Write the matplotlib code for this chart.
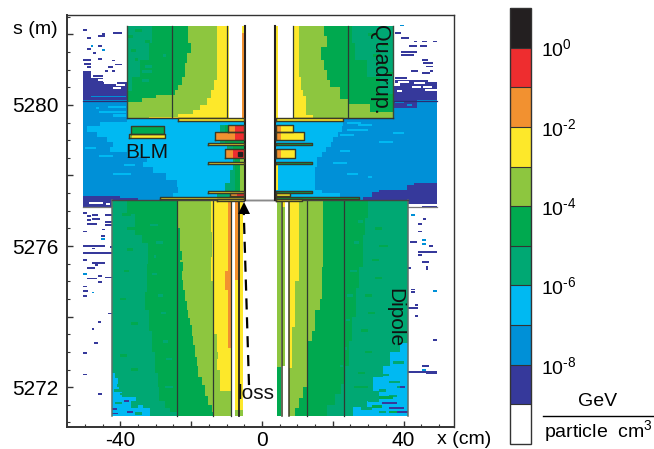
import matplotlib
matplotlib.use("Agg")
import matplotlib.pyplot as plt
import numpy as np
from matplotlib.cm import ScalarMappable
from matplotlib.colors import BoundaryNorm, ListedColormap

plt.rcParams['font.family'] = ['Liberation Sans', 'DejaVu Sans']
plt.rcParams['mathtext.fontset'] = 'custom'
plt.rcParams['mathtext.rm'] = 'Liberation Sans'
plt.rcParams['mathtext.default'] = 'rm'

# colour levels, lowest decade first
WHITE, NAVY, BLUE, CYAN, TEAL, GREEN, LIME, YELLOW, ORANGE, RED, BLACK = range(11)
colors = ['#ffffff', '#36399b', '#0090d7', '#00b9f2', '#00a873', '#00a94f',
          '#8dc63f', '#fde82a', '#f29130', '#ee2d2f', '#231f20']
cbar_exponents = [-8, -6, -4, -2, 0]
xtick_labels = {-40: '-40', 0: '0', 40: '40'}
stick_labels = [5272, 5276, 5280]

# dipole, left half: (s, x) of each contour edge
dl_deep_s = [5277.30, 5276.9, 5276.3, 5276.1, 5275.5, 5274.7, 5274.2, 5273.6, 5273.0, 5272.4, 5272.0, 5271.6, 5271.4, 5271.3, 5271.18]
dl_deep_x = [-38, -36, -34, -32.1, -32.6, -33, -32, -31, -30.2, -29.5, -29, -27.5, -26, -24, -23.2]
dl_lime_s = [5277.30, 5276.60, 5276.50, 5276.00, 5275.85, 5275.60, 5275.55, 5275.30, 5275.05, 5274.75, 5274.45, 5274.20, 5273.95, 5273.75, 5273.45, 5273.20, 5272.85, 5272.60, 5272.30, 5272.05, 5271.75, 5271.50, 5271.30, 5271.18]
dl_lime_x = [-23.6, -23.9, -23.3, -23.2, -22.7, -23.1, -22.2, -22.7, -22.2, -21.7, -21.3, -20.8, -20.3, -19.9, -19.4, -18.9, -18.4, -18.0, -17.0, -16.1, -15.2, -14.2, -13.7, -13.0]
dl_yellow_s = [5277.30, 5276.4, 5275.7, 5275.0, 5274.1, 5273.5, 5273.0, 5272.8, 5272.5, 5271.9, 5271.5, 5271.18]
dl_yellow_x = [-14.4, -14.0, -14.4, -13.7, -13.5, -12.8, -12.3, -12.8, -11.9, -10.9, -10.0, -9.5]
dl_cyan_s = [5272.40, 5272.25, 5272.10, 5271.95, 5271.85, 5271.72, 5271.62, 5271.50, 5271.40, 5271.18]
dl_cyan_x = [-41.5, -40.6, -40.3, -41.8, -39.6, -35.5, -37, -33.5, -31.6, -33.5]
dl_cyan_teal = [(5272.05, -41, -38), (5271.8, -40, -37.5), (5271.55, -41.5, -39.5), (5271.45, -37, -35), (5271.25, -36, -34), (5271.65, -35, -33.5)]

# dipole, right half
dr_deep_s = [5277.3, 5276.8, 5276.3, 5275.4, 5274.8, 5274.0, 5273.3, 5272.6, 5272.1, 5271.8, 5271.5, 5271.18]
dr_deep_x = [30, 29, 28.5, 27.5, 26.5, 25.5, 24.5, 23.5, 22.2, 20.5, 18.5, 18]
dr_lime_s = [5277.3, 5276.3, 5275.4, 5274.5, 5274.2, 5273.6, 5273.3, 5272.6, 5272.0, 5271.7, 5271.4, 5271.18]
dr_lime_x = [17.3, 17.1, 16.9, 16.4, 15.0, 14.2, 13.1, 13.0, 11.7, 10.5, 9.3, 9.3]
dr_yellow_s = [5277.3, 5275.0, 5274.0, 5273.7, 5272.55, 5271.18]
dr_yellow_x = [10.46, 9.33, 9.33, 8.4, 7.73, 7.73]
dr_cyan_s = [5273.25, 5273.0, 5272.6, 5272.3, 5271.9, 5271.6, 5271.45, 5271.18]
dr_cyan_x = [39, 36.2, 34.3, 31.5, 33, 29.6, 25.8, 23]
dr_cyan_teal = [(5272.7, 37, 40), (5272.35, 33, 36), (5272.15, 36, 39), (5271.9, 33, 35), (5271.75, 36, 38), (5271.6, 30, 33), (5271.4, 28, 31), (5271.3, 33, 35), (5272.0, 38, 40)]

# quadrupole, both halves
ql_teal_s = [5282.25, 5281.75, 5281.28, 5280.80, 5280.4]
ql_teal_x = [-31, -32, -34.5, -36.8, -38.2]
ql_lime_s = [5282.25, 5281.75, 5281.47, 5281.18, 5280.80, 5280.57, 5280.42, 5280.28, 5280.19, 5280.09, 5279.62]
ql_lime_x = [-20.8, -20.0, -21.3, -21.8, -22.7, -23.7, -24.6, -30, -34, -38.2, -38.2]
ql_yellow_s = [5282.25, 5280.71, 5280.42, 5280.19, 5280.0, 5279.86, 5279.74, 5279.67, 5279.62]
ql_yellow_x = [-12.8, -13.6, -14.4, -15.6, -17.5, -19.4, -23.6, -32, -32]
qr_teal_s = [5282.25, 5281.75, 5281.28, 5280.80, 5280.3]
qr_teal_x = [25.3, 26.3, 29.6, 33.3, 35.2]
qr_lime_s = [5282.25, 5281.95, 5281.65, 5281.28, 5281.0, 5280.71, 5280.52, 5280.33, 5280.16, 5279.62]
qr_lime_x = [17.4, 18.4, 16.7, 17.4, 18.4, 19.2, 22, 22, 24.5, 24.5]
qr_yellow_s = [5282.25, 5280.80, 5280.42, 5280.24, 5279.72, 5279.62]
qr_yellow_x = [10.55, 11.0, 11.68, 12.43, 14.3, 14.3]
qr_lime_right = [(5280.02, 24.2, 30.5), (5279.79, 30.5, 36.9)]

# tunnel between the magnets
mid_cyan_ls = [5280.1, 5279.53, 5279.39, 5279.24, 5279.10, 5278.96, 5278.82, 5278.68, 5278.53, 5278.39, 5278.25, 5278.06, 5277.87, 5277.68, 5277.50, 5277.35, 5277.3]
mid_cyan_lx = [-38.2, -45.8, -49.5, -46.7, -43.9, -42, -43, -38.2, -32.6, -33.5, -30.7, -27, -24.1, -23.6, -25, -28.8, -28.8]
mid_cyan_rs = [5279.62, 5279.39, 5279.24, 5279.10, 5278.96, 5278.82, 5278.68, 5278.53, 5278.25, 5277.87, 5277.60, 5277.50, 5277.35, 5277.3]
mid_cyan_rx = [23, 22.5, 21.5, 20.2, 19.5, 18, 17, 15.5, 15, 15, 17, 22, 24, 24]
mid_teal_s = [5279.43, 5278.92, 5278.53, 5278.15, 5277.78, 5277.51, 5277.30]
mid_teal_x = [-11.9, -10, -8.1, -9, -10.5, -12.8, -15.6]
mid_green_s = [5279.43, 5278.92, 5278.53, 5277.78, 5277.45, 5277.30]
mid_green_x = [-10.5, -8.1, -7.6, -7.6, -9, -9]

# navy fringe above the tunnel: s_top, s_bottom, x0, x1
navy_top = [
    (5280.95, 5280.14, -50.6, -48.2), (5280.76, 5280.14, -48.2, -44.8), (5280.66, 5280.14, -44.8, -38.2),
    (5280.62, 5280.14, 36.9, 37.6), (5280.72, 5280.14, 37.6, 49.3), (5280.14, 5279.92, 36.9, 43.7),
]
navy_low_ls = [5277.42, 5277.36, 5277.3, 5277.18, 5277.12]
navy_low_lx = [-40, -35, -28, -42.5, -42.5]
navy_low_rs = [5277.78, 5277.72, 5277.60, 5277.54, 5277.40, 5277.3, 5277.2]
navy_low_rx = [42.8, 40.9, 33, 31, 28.6, 28.6, 41.3]

navy_specks = [
    (5282.13, -50.6, -49.5), (5282.05, -42.2, -39.6), (5281.96, -46.4, -44.4), (5282.01, -45.3, -44.4),
    (5281.90, -49.5, -48.4), (5281.67, -46.4, -45.3), (5281.59, -49.3, -48.4), (5281.48, -47.6, -47),
    (5281.28, -50.6, -48.4), (5281.16, -50.4, -48.4), (5281.30, -46.4, -45.3), (5281.26, -42.5, -41.5),
    (5281.15, -41.5, -39.6), (5281.07, -49.5, -48.4), (5281.07, -43.4, -42.2), (5280.96, -44.4, -43.4),
    (5280.96, -42.5, -41.5), (5280.82, -47.6, -45),
    (5282.04, 37.6, 39.3), (5281.90, 39.4, 41.4), (5281.80, 43.0, 43.9), (5281.80, 45.1, 46.5),
    (5281.80, 48.4, 49.3), (5281.67, 41.4, 43.9), (5281.67, 44.6, 46.5), (5281.50, 39.3, 43.7),
    (5281.42, 39.3, 42.8), (5281.28, 45.1, 47), (5281.18, 45.6, 48.4), (5281.09, 46.3, 48.2),
    (5280.96, 42.1, 44.2), (5280.96, 47.5, 48.2), (5280.90, 45.1, 47.4), (5280.76, 37.6, 40.9),
    (5277.26, 43.2, 49.3), (5277.12, 45.1, 49.3), (5276.62, 44, 45.1), (5276.76, 45.4, 46.3),
    (5276.41, 44.2, 45.1), (5276.12, 41.8, 43.7), (5276.0, 47.2, 48.4), (5275.84, 44.2, 49.3),
    (5275.75, 44.2, 45.1), (5275.41, 46.3, 47), (5275.34, 46.3, 47), (5275.54, 45.1, 47.3),
    (5275.37, 41.3, 42), (5274.77, 42.1, 43.2), (5274.70, 42.1, 43.2), (5274.25, 41.3, 44.2),
    (5274.33, 43.2, 44.2), (5274.01, 43.2, 44.2), (5273.33, 48.2, 49.3), (5272.60, 45.1, 47.3),
    (5272.43, 41.3, 49.3), (5272.40, 46.3, 49.3),
    (5276.93, -50.6, -49.5), (5276.85, -49.3, -48.4), (5276.88, -48.1, -46.2), (5276.88, -44.4, -42.5),
    (5276.76, -48.1, -45.8), (5276.74, -49.3, -48.4), (5276.69, -44.4, -42.5), (5276.62, -49.5, -46.7),
    (5276.60, -44.4, -42.5), (5276.47, -45.3, -44.4), (5276.41, -50.6, -49.5), (5276.28, -45.5, -44.4),
    (5276.0, -50.6, -44.4), (5275.98, -42.9, -42.5), (5275.93, -48.1, -47.2), (5275.81, -50.6, -44.4),
    (5275.81, -44.8, -42.5), (5275.60, -50.6, -49.5), (5275.51, -48.1, -44.4), (5275.46, -47.2, -46.2),
    (5275.37, -49.3, -47.2), (5275.15, -46.2, -45.3), (5275.08, -49.3, -46.5), (5275.11, -44.4, -42.5),
    (5274.99, -46.2, -45.3), (5274.85, -50.6, -49.5), (5274.73, -50.6, -49.1), (5274.58, -50.6, -49.5),
    (5274.09, -43.4, -42.5), (5273.84, -46.4, -45.6), (5273.64, -48.1, -47.5), (5273.26, -47.5, -46.4),
    (5272.97, -50.6, -49.5), (5272.36, -50.6, -49.5), (5271.80, -46.4, -45.3),
]
blue_specks = [
    (5281.67, -48.2, -47.6), (5281.55, -45.3, -44.4), (5282.25, 39.0, 40.0),
    (5276.19, -45.5, -44.4), (5275.21, -50.6, -49.5), (5274.68, -48.1, -47.5),
    (5276.88, 42.1, 43.2), (5276.18, 45.1, 46.3), (5276.06, 45.1, 46.3), (5274.73, 48.2, 49.3),
    (5272.48, 45.1, 46.3), (5280.24, -48.4, -38.4), (5280.08, 37.5, 40), (5280.0, 41, 42.5),
]
white_specks = [
    (5280.70, -46.4, -43.4), (5280.62, -44.5, -41), (5280.57, -41.2, -38.6), (5280.48, -42.2, -39.8),
    (5280.66, 38.5, 41.5), (5280.58, 37.4, 39), (5280.50, 42.5, 45), (5280.42, 46, 49.3),
    (5280.52, 45.5, 48), (5280.62, 43, 46), (5280.40, 38, 39.5), (5280.68, 47, 49.3),
    (5277.22, -49, -45), (5277.18, -44, -42.8),
]
cyan_streaks = [
    (5279.95, -43.5, -38.4), (5279.80, -46, -38.4), (5279.70, -42, -38.4), (5279.92, -47, -46),
    (5278.78, -50, -47), (5278.55, -46, -42), (5278.30, -39, -36), (5278.05, -42, -37),
    (5279.50, 24, 28), (5279.42, 27, 31), (5279.30, 24, 30), (5279.15, 22, 26), (5278.95, 33, 37),
    (5279.20, 37, 40), (5278.70, 22, 25), (5278.35, 20, 24), (5278.05, 24, 27), (5277.95, 30, 31),
]
dl_teal_specks = [
    (5276.6, -31.5, -29.5), (5276.1, -30, -28), (5275.7, -30.5, -30), (5275.2, -31, -29.6),
    (5274.6, -29.5, -28), (5274.1, -28.5, -27), (5273.3, -28, -26.5), (5272.8, -27, -25.5), (5272.0, -27.5, -25),
]
dl_green_specks = [
    (5276.9, -39.5, -37), (5276.5, -38, -36), (5275.9, -38, -36.5), (5275.3, -39, -37.5),
    (5274.5, -40, -38.5), (5273.8, -37, -35), (5272.9, -40, -38), (5272.5, -37, -35),
]
dr_teal_specks = [
    (5276.7, 27, 28.5), (5276.1, 26, 27.5), (5275.3, 25, 26.8), (5274.6, 24, 25.6),
    (5273.9, 23.6, 25), (5273.1, 23.4, 24), (5272.6, 22, 23),
]
dr_green_specks = [
    (5276.5, 32, 34), (5276.0, 33, 35.5), (5275.6, 31, 33), (5275.1, 32, 34), (5274.6, 29, 31),
    (5274.1, 30, 32), (5273.6, 28, 30), (5273.0, 29, 31), (5272.4, 27, 29), (5272.0, 26, 30), (5271.7, 33, 37),
    (5271.45, 31, 34), (5271.3, 36, 38),
]
dr_navy_specks = [(5271.55, 34, 38), (5271.4, 36, 40), (5271.3, 38, 41.3), (5272.0, 39, 40.5)]
dl_navy_specks = [(5271.38, -42.3, -41), (5271.25, -42.3, -40.6), (5271.6, -39, -37.5), (5271.3, -38, -36.5)]
ql_teal_specks = [(5281.1, -33, -31), (5280.95, -34, -31), (5280.7, -34, -32), (5281.4, -28, -27)]
ql_green_specks = [(5282.1, -36, -34), (5281.8, -33, -31.5), (5281.55, -37, -35.5), (5281.95, -38, -36.5), (5281.3, -36, -35)]
qr_green_specks = [(5282.0, 30, 33), (5281.7, 34, 36), (5281.4, 31.5, 33.5), (5281.15, 34, 35), (5280.9, 35, 36.9)]

# beamline elements: x0, x1, s0, s1, main level, (inner x, inner level)
bars_left = [
    (-23.6, -5.1, 5279.54, 5279.62, YELLOW, None),
    (-9.7, -5.1, 5279.24, 5279.43, ORANGE, (-7.6, RED)),
    (-13.3, -5.1, 5279.01, 5279.22, ORANGE, (-7.6, RED)),
    (-15.3, -5.1, 5278.87, 5278.93, YELLOW, None),
    (-10.5, -5.1, 5278.49, 5278.75, ORANGE, (-8.3, RED)),
    (-15.3, -5.1, 5278.32, 5278.37, YELLOW, None),
    (-15.3, -5.1, 5277.50, 5277.55, YELLOW, None),
    (-9.0, -5.1, 5277.43, 5277.50, ORANGE, (-7.0, RED)),
    (-28.8, -5.1, 5277.32, 5277.40, YELLOW, None),
    (-12.6, -5.1, 5277.28, 5277.34, YELLOW, None),
]
bars_right = [
    (3.96, 22.8, 5279.54, 5279.62, YELLOW, None),
    (3.96, 8.67, 5279.24, 5279.43, ORANGE, (5.4, YELLOW)),
    (3.96, 11.9, 5279.01, 5279.22, ORANGE, (5.4, YELLOW)),
    (3.96, 14.0, 5278.87, 5278.93, GREEN, None),
    (3.96, 9.3, 5278.49, 5278.75, ORANGE, (5.4, YELLOW)),
    (3.96, 14.0, 5278.32, 5278.37, GREEN, None),
    (3.96, 14.0, 5277.50, 5277.55, GREEN, None),
    (3.96, 7.9, 5277.43, 5277.50, YELLOW, None),
    (3.96, 27.5, 5277.32, 5277.40, GREEN, None),
    (3.96, 11.4, 5277.28, 5277.34, YELLOW, None),
]
bars_blm = [
    (-37.1, -27.7, 5279.18, 5279.39, LIME, (-36.6, GREEN)),
    (-37.5, -27.4, 5279.06, 5279.18, LIME, (-36.8, YELLOW)),
]

# contour lines of the magnet sectors
dipole_lines = [-24.1, -13.9, -8.7, 12.8, 23.07]
quad_lines = [-25.3, -10.0, 8.67, 24.2]

fig = plt.figure(figsize=(6.54, 4.49), dpi=100)
ax = fig.add_axes([67 / 654, 22 / 449, 387 / 654, 412 / 449])
ax.set_xlim(-55.08, 54.24)
ax.set_ylim(5270.87, 5282.55)


def band(s, x0, x1, level, z=2):
    ax.fill_betweenx(s, x0, x1, step='post', color=colors[level], lw=0, zorder=z)


def specks(rows, level, z=3, h=0.05):
    for s, x0, x1 in rows:
        ax.barh(s, x1 - x0, left=x0, height=h, color=colors[level], lw=0, zorder=z)


# tunnel and halo
S_TOP, S_MID, S_DIP, S_BOT = 5282.25, 5279.62, 5277.30, 5271.18
band([5280.14, 5277.30], -50.6, -4.9, BLUE, 1)
band([5280.14, 5277.30], 3.7, 49.3, BLUE, 1)
for s0, s1, x0, x1 in navy_top:
    band([s0, s1], x0, x1, NAVY, 1.2)
band(navy_low_ls, -50.6, navy_low_lx, NAVY, 1.2)
band(navy_low_rs, navy_low_rx, 49.3, NAVY, 1.2)
band(mid_cyan_ls, mid_cyan_lx, -4.9, CYAN, 1.3)
band(mid_cyan_rs, 3.7, mid_cyan_rx, CYAN, 1.3)
specks(cyan_streaks, CYAN, 1.4, 0.06)
band(mid_teal_s, mid_teal_x, -4.9, TEAL, 1.5)
band(mid_green_s, mid_green_x, -4.9, GREEN, 1.6)
band([5278.5, 5277.30], -6.2, -4.9, LIME, 1.7)
band([5278.3, 5277.6], 3.96, 4.4, YELLOW, 1.7)
# open aperture above the tunnel
band([S_TOP, S_MID], -10, -4.9, WHITE, 1.8)
band([S_TOP, S_MID], 3.7, 8.85, WHITE, 1.8)

# dipole left
band([S_DIP, S_BOT], -42.5, -8.6, TEAL)
band(dl_cyan_s, -42.5, dl_cyan_x, CYAN, 2.05)
specks(dl_cyan_teal, TEAL, 2.07, 0.07)
band(dl_deep_s, dl_deep_x, -8.6, GREEN, 2.1)
specks(dl_teal_specks, TEAL, 2.15, 0.07)
specks(dl_green_specks, GREEN, 2.15, 0.07)
specks(dl_navy_specks, NAVY, 2.15)
band(dl_lime_s, dl_lime_x, -8.6, LIME, 2.2)
band(dl_yellow_s, dl_yellow_x, -8.6, YELLOW, 2.3)
band([5271.9, S_BOT], -10.9, -8.6, LIME, 2.35)
band([S_DIP, 5273.10], -9.5, -8.6, ORANGE, 2.4)
band([5275.3, 5274.75], -10.5, -9.5, ORANGE, 2.4)
band([S_DIP, 5275.03], -7.6, -6.7, ORANGE, 2.4)
band([5275.03, 5271.35], -7.6, -6.7, YELLOW, 2.4)
band([5271.35, S_BOT], -7.6, -5.4, LIME, 2.4)
band([S_DIP, 5271.35], -6.7, -5.4, YELLOW, 2.4)

# dipole right
band([S_DIP, S_BOT], 7.7, 41.34, TEAL)
band(dr_cyan_s, dr_cyan_x, 41.34, CYAN, 2.05)
specks(dr_cyan_teal, TEAL, 2.07, 0.07)
band(dr_deep_s, 7.7, dr_deep_x, GREEN, 2.1)
specks(dr_teal_specks, TEAL, 2.15, 0.07)
specks(dr_green_specks, GREEN, 2.15, 0.07)
specks(dr_navy_specks, NAVY, 2.15)
band(dr_lime_s, 7.7, dr_lime_x, LIME, 2.2)
band(dr_yellow_s, 7.7, dr_yellow_x, YELLOW, 2.3)
band([S_DIP, 5272.58], 4.15, 5.4, LIME, 2.3)
band([5272.58, S_BOT], 4.15, 5.4, GREEN, 2.3)
band([S_DIP, 5272.6], 5.75, 6.5, LIME, 2.3)
band([S_DIP, 5277.1], 5.75, 6.5, YELLOW, 2.4)

# quadrupole left
band([S_TOP, S_MID], -38.2, -10, GREEN, 2.5)
band(ql_teal_s, -38.2, ql_teal_x, TEAL, 2.52)
specks(ql_teal_specks, TEAL, 2.54, 0.08)
specks(ql_green_specks, GREEN, 2.54, 0.08)
band(ql_lime_s, ql_lime_x, -10, LIME, 2.6)
band(ql_yellow_s, ql_yellow_x, -10, YELLOW, 2.7)
band([S_TOP, S_MID], -10, -9.3, YELLOW, 2.7)
band([S_TOP, S_MID], -5.65, -4.9, ORANGE, 2.7)
band([S_TOP, 5282.03], -5.65, -4.9, YELLOW, 2.75)

# quadrupole right
band([S_TOP, S_MID], 8.85, 36.9, GREEN, 2.5)
band(qr_teal_s, qr_teal_x, 36.9, TEAL, 2.52)
specks(qr_green_specks, GREEN, 2.54, 0.08)
band(qr_lime_s, 8.85, qr_lime_x, LIME, 2.6)
for s, x0, x1 in qr_lime_right:
    band([s, S_MID], x0, x1, LIME, 2.6)
band(qr_yellow_s, 8.85, qr_yellow_x, YELLOW, 2.7)
band([S_TOP, S_MID], 4.0, 4.6, YELLOW, 2.7)

# fringe specks
specks(navy_specks, NAVY, 1.1)
specks(blue_specks, BLUE, 1.25)
specks(white_specks, WHITE, 1.25, 0.06)

# sector lines
line_dark = '#2f3a33'
for x in dipole_lines:
    ax.plot([x, x], [S_DIP, S_BOT], color=line_dark, lw=0.9, zorder=4)
for x in [5.55, 7.6]:
    ax.plot([x, x], [S_DIP, S_BOT], color='#3a3a24', lw=1.1, zorder=4)
ax.plot([-6.4, -6.4], [S_DIP, S_BOT], color='#231f20', lw=1.3, zorder=4)
for x in [-42.5, 41.34]:
    ax.plot([x, x], [S_DIP, S_BOT], color='#5f6f68', lw=1.1, zorder=4)
for x in quad_lines:
    ax.plot([x, x], [S_TOP, S_MID], color=line_dark, lw=0.9, zorder=4)
for x in [-38.2, 36.9]:
    ax.plot([x, x], [S_TOP, S_MID], color='#3a4a3a', lw=1.0, zorder=4)
ax.plot([-38.2, -10], [S_MID, S_MID], color='#333333', lw=1.0, zorder=4)
ax.plot([8.67, 36.9], [S_MID, S_MID], color='#333333', lw=1.0, zorder=4)
for x in [-4.8, 3.65]:
    ax.plot([x, x], [S_TOP, S_DIP], color='#231f20', lw=1.5, zorder=5)
ax.plot([-42.5, 41.34], [S_DIP, S_DIP], color='#444444', lw=1.0, zorder=4)
ax.plot([-4.8, 3.65], [S_DIP, S_DIP], color='#8a8a8a', lw=1.0, zorder=4)
for seg in ([-50.6, -38.2], [36.9, 49.3]):
    ax.plot(seg, [5280.12, 5280.12], color='#2b2d70', lw=0.9, zorder=3)
for seg in ([-50.6, -42.5], [41.34, 49.3]):
    ax.plot(seg, [5277.12, 5277.12], color='#777777', lw=0.9, zorder=3)

# elements
for x0, x1, s0, s1, level, inner in bars_left + bars_right + bars_blm:
    ax.fill_between([x0, x1], s0, s1, color=colors[level], lw=0, zorder=5)
    if inner is not None:
        xi, li = inner
        ax.fill_between([xi, x1], s0, s1, color=colors[li], lw=0, zorder=5.1)
    ax.plot([x0, x1, x1, x0, x0], [s0, s0, s1, s1, s0], color='#3b3b26', lw=1.0, zorder=5.2)
ax.plot([-6.2], [5278.62], 's', color='#231f20', ms=2.5, zorder=5.3)

# labels in the plot
ax.text(-32.5, 5278.64, 'BLM', fontsize=15, ha='center', va='center', zorder=7, color='#111111')
ax.text(33.3, 5280.99, 'Quadrup.', fontsize=15.5, rotation=-90, ha='center', va='center', zorder=7, color='#111111')
ax.text(37.6, 5273.96, 'Dipole', fontsize=15, rotation=-90, ha='center', va='center', zorder=7, color='#111111')
ax.text(-6.8, 5271.83, 'loss', fontsize=15, ha='left', va='center', zorder=7, color='#111111')
ax.plot([-3.67, -5.18], [5272.06, 5277.05], color='black', lw=1.6, ls=(0, (5, 3.5)), zorder=7)
ax.plot([-5.18], [5277.07], '^', color='black', ms=8, mew=0, zorder=7)

# axes
ax.set_xticks(np.arange(-40, 41, 20))
ax.set_xticks(np.arange(-50, 51, 5), minor=True)
ax.set_xticklabels([xtick_labels.get(t, '') for t in range(-40, 41, 20)])
ax.set_yticks(np.arange(5272, 5283, 2))
ax.set_yticks(np.arange(5271, 5282.6, 0.5), minor=True)
ax.set_yticklabels([str(t) if t in stick_labels else '' for t in range(5272, 5283, 2)])
ax.tick_params(which='major', direction='in', length=4, width=1, labelsize=15, color='#333333', pad=6)
ax.tick_params(axis='x', which='major', pad=3)
ax.tick_params(which='minor', direction='in', length=2, width=0.8, color='#333333')
for name, sp in ax.spines.items():
    sp.set_color('#333333')
    sp.set_linewidth(1.4 if name in ('left', 'bottom') else 1.0)
fig.text(437 / 654, 1 - 439 / 449, 'x (cm)', fontsize=14, ha='left', va='center')
fig.text(13 / 654, 1 - 29 / 449, 's (m)', fontsize=14, ha='left', va='center')

# colour bar
cax = fig.add_axes([509.5 / 654, 5 / 449, 21.5 / 654, 436 / 449])
sm = ScalarMappable(norm=BoundaryNorm(np.arange(-10, 2), 11), cmap=ListedColormap(colors))
cb = fig.colorbar(sm, cax=cax, ticks=cbar_exponents, drawedges=True, spacing='proportional')
cb.ax.minorticks_off()
cb.ax.tick_params(length=0, pad=7, labelsize=14)
cb.set_ticklabels(['10$^{%s}$' % (r'\text{-}' + str(-e) if e < 0 else str(e)) for e in cbar_exponents])
cb.outline.set_edgecolor('#333333')
cb.outline.set_linewidth(1.0)
cb.dividers.set_color('#333333')
cb.dividers.set_linewidth(0.8)

fig.text(598 / 654, 1 - 402 / 449, 'GeV', fontsize=14, ha='center', va='center')
fig.add_artist(plt.Line2D([543 / 654, 654 / 654], [1 - 416 / 449, 1 - 416 / 449], color='black', lw=1.0))
fig.text(544 / 654, 1 - 431 / 449, 'particle  cm$^{3}$', fontsize=14, ha='left', va='center')

fig.savefig('out.png', dpi=100)
